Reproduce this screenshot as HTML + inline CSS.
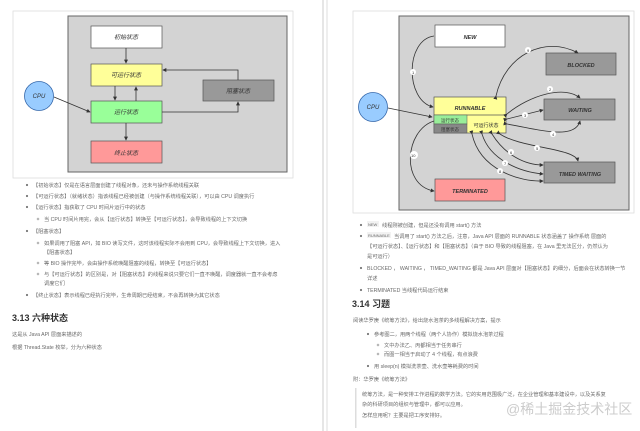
<!DOCTYPE html>
<html><head><meta charset="utf-8"><style>
html,body{margin:0;padding:0;background:#fff;width:640px;height:431px;overflow:hidden}
svg{display:block}
text{font-family:"Liberation Sans","Noto Sans CJK SC",sans-serif}
.t{font-size:5.2px;fill:#6a6a6a}
.b{fill:#777}
.n{font-size:5.5px;font-style:italic;fill:#333;font-weight:bold}
.c{font-size:6px;font-style:italic;fill:#333}
.ln{stroke:#333;stroke-width:0.8;fill:none}
</style></head><body>
<svg width="640" height="431" viewBox="0 0 640 431" xmlns="http://www.w3.org/2000/svg">
<defs><marker id="a" viewBox="0 0 6 6" refX="5" refY="3" markerWidth="5" markerHeight="5" orient="auto"><path d="M0,0L6,3L0,6z" fill="#333"/></marker></defs>
<line x1="323" y1="0" x2="323" y2="431" stroke="#ccc" stroke-width="1"/>
<line x1="327" y1="0" x2="327" y2="431" stroke="#ddd" stroke-width="1"/>

<!-- LEFT DIAGRAM -->
<rect x="13" y="11" width="280" height="167" fill="#fff" stroke="#ddd" stroke-width="0.8"/>
<rect x="68" y="16" width="219" height="156" fill="#d3d3d3" stroke="#666" stroke-width="1"/>
<rect x="91" y="26" width="71" height="22" fill="#fff" stroke="#555" stroke-width="0.7"/>
<text x="126" y="39" class="c" text-anchor="middle">初始状态</text>
<rect x="91" y="64" width="71" height="22" fill="#ffff99" stroke="#555" stroke-width="0.7"/>
<text x="126" y="77" class="c" text-anchor="middle">可运行状态</text>
<rect x="91" y="101" width="71" height="22" fill="#99ff99" stroke="#555" stroke-width="0.7"/>
<text x="126" y="114" class="c" text-anchor="middle">运行状态</text>
<rect x="91" y="141" width="71" height="22" fill="#ff9999" stroke="#555" stroke-width="0.7"/>
<text x="126" y="155" class="c" text-anchor="middle">终止状态</text>
<rect x="203" y="80" width="71" height="21" fill="#999" stroke="#555" stroke-width="0.7"/>
<text x="238" y="93" class="c" text-anchor="middle">阻塞状态</text>
<circle cx="39" cy="96" r="14.5" fill="#99ccff" stroke="#3366aa" stroke-width="0.8"/>
<text x="39" y="98" class="c" text-anchor="middle">CPU</text>
<path class="ln" d="M126,48V63" marker-end="url(#a)"/>
<path class="ln" d="M115,86V100" marker-end="url(#a)"/>
<path class="ln" d="M136,101V87" marker-end="url(#a)"/>
<path class="ln" d="M126,123V140" marker-end="url(#a)"/>
<path class="ln" d="M54,97L90,112" marker-end="url(#a)"/>
<path class="ln" d="M162,112H238V102" marker-end="url(#a)"/>
<path class="ln" d="M238,80V70H163" marker-end="url(#a)"/>

<!-- LEFT TEXT -->
<g class="t">
<circle cx="27" cy="185" r="1.1" class="b"/><text x="33" y="187">【初始状态】仅是在语言层面创建了线程对象，还未与操作系统线程关联</text>
<circle cx="27" cy="196" r="1.1" class="b"/><text x="33" y="198">【可运行状态】（就绪状态）指该线程已经被创建（与操作系统线程关联），可以由 CPU 调度执行</text>
<circle cx="27" cy="207" r="1.1" class="b"/><text x="33" y="209">【运行状态】指获取了 CPU 时间片运行中的状态</text>
<circle cx="38" cy="219" r="1" fill="none" stroke="#777" stroke-width="0.5"/><text x="44" y="221">当 CPU 时间片用完，会从【运行状态】转换至【可运行状态】，会导致线程的上下文切换</text>
<circle cx="27" cy="231" r="1.1" class="b"/><text x="33" y="233">【阻塞状态】</text>
<circle cx="38" cy="243" r="1" fill="none" stroke="#777" stroke-width="0.5"/><text x="44" y="245">如果调用了阻塞 API，如 BIO 读写文件，这时该线程实际不会用到 CPU，会导致线程上下文切换，进入</text>
<text x="44" y="254">【阻塞状态】</text>
<circle cx="38" cy="263" r="1" fill="none" stroke="#777" stroke-width="0.5"/><text x="44" y="265">等 BIO 操作完毕，会由操作系统唤醒阻塞的线程，转换至【可运行状态】</text>
<circle cx="38" cy="274" r="1" fill="none" stroke="#777" stroke-width="0.5"/><text x="44" y="276">与【可运行状态】的区别是，对【阻塞状态】的线程来说只要它们一直不唤醒，调度器就一直不会考虑</text>
<text x="44" y="285">调度它们</text>
<circle cx="27" cy="295" r="1.1" class="b"/><text x="33" y="297">【终止状态】表示线程已经执行完毕，生命周期已经结束，不会再转换为其它状态</text>
<text x="12" y="336">这是从 Java API 层面来描述的</text>
<text x="12" y="349">根据 Thread.State 枚举，分为六种状态</text>
</g>
<text x="12" y="321" style="font-size:9px;font-weight:bold;fill:#333">3.13 六种状态</text>

<!-- RIGHT DIAGRAM -->
<rect x="353" y="11" width="281" height="202" fill="#fff" stroke="#ddd" stroke-width="0.8"/>
<rect x="399" y="16" width="230" height="194" fill="#d3d3d3" stroke="#666" stroke-width="1"/>
<rect x="435" y="25" width="70" height="22" fill="#fff" stroke="#555" stroke-width="0.7"/>
<text x="470" y="39" class="n" text-anchor="middle">NEW</text>
<rect x="546" y="53" width="70" height="22" fill="#999" stroke="#555" stroke-width="0.7"/>
<text x="581" y="67" class="n" text-anchor="middle">BLOCKED</text>
<rect x="544" y="99" width="71" height="21" fill="#999" stroke="#555" stroke-width="0.7"/>
<text x="580" y="112" class="n" text-anchor="middle">WAITING</text>
<rect x="544" y="162" width="71" height="21" fill="#999" stroke="#555" stroke-width="0.7"/>
<text x="580" y="176" class="n" text-anchor="middle">TIMED WAITING</text>
<rect x="435" y="179" width="70" height="22" fill="#ff9999" stroke="#555" stroke-width="0.7"/>
<text x="470" y="193" class="n" text-anchor="middle">TERMINATED</text>
<rect x="434" y="97" width="72" height="36" fill="#ffff99" stroke="#555" stroke-width="0.7"/>
<line x1="434" y1="115" x2="506" y2="115" stroke="#555" stroke-width="0.7"/>
<rect x="434" y="115" width="33" height="9" fill="#99ee99" stroke="#555" stroke-width="0.5"/>
<rect x="434" y="124" width="33" height="9" fill="#888" stroke="#555" stroke-width="0.5"/>
<text x="470" y="110" class="n" text-anchor="middle">RUNNABLE</text>
<text x="450" y="122" style="font-size:4.5px;fill:#333" text-anchor="middle">运行状态</text>
<text x="450" y="131" style="font-size:4.5px;fill:#333" text-anchor="middle">阻塞状态</text>
<text x="486" y="127" style="font-size:5px;fill:#333" text-anchor="middle">可运行状态</text>
<circle cx="373" cy="107" r="14.5" fill="#99ccff" stroke="#3366aa" stroke-width="0.8"/>
<text x="373" y="109" class="c" text-anchor="middle">CPU</text>
<g class="ln">
<path d="M388,108L432,117" marker-end="url(#a)"/>
<path d="M434,36C405,40 405,100 433,107" marker-end="url(#a)"/>
<path d="M496,96C505,55 545,35 578,53" marker-start="url(#a)" marker-end="url(#a)"/>
<path marker-start="url(#a)" d="M507,114C530,95 565,85 580,98" marker-end="url(#a)"/>
<path d="M507,119L543,110" marker-start="url(#a)" marker-end="url(#a)"/>
<path d="M507,124C540,130 575,140 580,121" marker-start="url(#a)" marker-end="url(#a)"/>
<path d="M500,134C520,148 575,148 578,161" marker-start="url(#a)" marker-end="url(#a)"/>
<path d="M492,134C505,155 525,165 543,165" marker-start="url(#a)" marker-end="url(#a)"/>
<path d="M482,134C490,160 520,172 543,174" marker-start="url(#a)" marker-end="url(#a)"/>
<path d="M472,134C480,170 520,182 543,181" marker-start="url(#a)" marker-end="url(#a)"/>
<path d="M434,121C405,130 400,185 434,191" marker-end="url(#a)"/>
</g>
<g style="font-size:4px;fill:#333">
<circle cx="413" cy="72" r="3" fill="#fff"/><text x="412" y="74">1</text>
<circle cx="528" cy="50" r="3" fill="#fff"/><text x="527" y="52">9</text>
<circle cx="550" cy="89" r="3" fill="#fff"/><text x="549" y="91">2</text>
<circle cx="525" cy="115" r="3" fill="#fff"/><text x="524" y="117">3</text>
<circle cx="553" cy="134" r="3" fill="#fff"/><text x="552" y="136">4</text>
<circle cx="537" cy="148" r="3" fill="#fff"/><text x="536" y="150">5</text>
<circle cx="511" cy="152" r="3" fill="#fff"/><text x="510" y="154">6</text>
<circle cx="505" cy="163" r="3" fill="#fff"/><text x="504" y="165">7</text>
<circle cx="500" cy="171" r="3" fill="#fff"/><text x="499" y="173">8</text>
<circle cx="414" cy="155" r="4" fill="#fff"/><text x="411" y="157">10</text>
</g>

<!-- RIGHT TEXT -->
<g class="t">
<circle cx="361" cy="225" r="1.1" class="b"/><rect x="367" y="221" width="12" height="6" fill="#f2f2f2"/><text x="368" y="226" style="font-size:4px">NEW</text><text x="382" y="227">线程刚被创建，但是还没有调用 start() 方法</text>
<circle cx="361" cy="236" r="1.1" class="b"/><rect x="367" y="232" width="24" height="6" fill="#f2f2f2"/><text x="368" y="237" style="font-size:4px">RUNNABLE</text><text x="394" y="238">当调用了 start() 方法之后，注意，Java API 层面的 RUNNABLE 状态涵盖了 操作系统 层面的</text>
<text x="367" y="248">【可运行状态】、【运行状态】和【阻塞状态】（由于 BIO 导致的线程阻塞，在 Java 里无法区分，仍然认为</text>
<text x="367" y="258">是可运行）</text>
<circle cx="361" cy="268" r="1.1" class="b"/><text x="367" y="270">BLOCKED ， WAITING ， TIMED_WAITING 都是 Java API 层面对【阻塞状态】的细分，后面会在状态转换一节</text>
<text x="367" y="280">详述</text>
<circle cx="361" cy="290" r="1.1" class="b"/><text x="367" y="292">TERMINATED 当线程代码运行结束</text>
<text x="353" y="322">阅读华罗庚《统筹方法》，给出烧水泡茶的多线程解决方案，提示</text>
<circle cx="368" cy="334" r="1.1" class="b"/><text x="374" y="336">参考图二，用两个线程（两个人协作）模拟烧水泡茶过程</text>
<circle cx="378" cy="345" r="1" fill="none" stroke="#777" stroke-width="0.5"/><text x="384" y="347">文中办法乙、丙都相当于任务串行</text>
<circle cx="378" cy="354" r="1" fill="none" stroke="#777" stroke-width="0.5"/><text x="384" y="356">而图一相当于启动了 4 个线程，有点浪费</text>
<circle cx="368" cy="366" r="1.1" class="b"/><text x="374" y="368">用 sleep(n) 模拟洗茶壶、洗水壶等耗费的时间</text>
<text x="353" y="381">附：华罗庚《统筹方法》</text>
<text x="362" y="396">统筹方法，是一种安排工作进程的数学方法。它的实用范围极广泛，在企业管理和基本建设中，以及关系复</text>
<text x="362" y="406">杂的科研项目的组织与管理中，都可以应用。</text>
<text x="362" y="417">怎样应用呢？主要是把工序安排好。</text>
</g>
<rect x="355" y="388" width="1.5" height="40" fill="#ddd"/>
<text x="352" y="307" style="font-size:9px;font-weight:bold;fill:#333">3.14 习题</text>
<text x="506" y="414" style="font-size:14px;fill:#ccc">@稀土掘金技术社区</text>
</svg>
</body></html>
